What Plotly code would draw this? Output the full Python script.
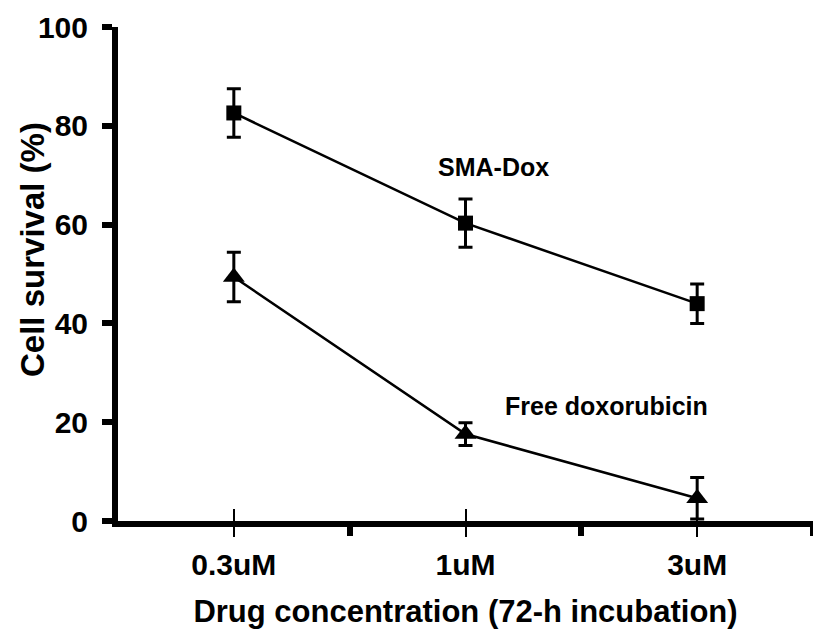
import plotly.graph_objects as go

categories = ["0.3uM", "1uM", "3uM"]
x_pos = [0, 1, 2]
sma_dox = [82.6, 60.3, 44.0]
sma_dox_err = [4.9, 4.9, 4.0]
free_dox = [49.4, 17.6, 4.6]
free_dox_err = [5.0, 2.3, 4.2]
y_ticks = [0, 20, 40, 60, 80, 100]

FONT = "Liberation Sans"

fig = go.Figure()

fig.add_trace(go.Scatter(
    x=x_pos, y=sma_dox, mode="lines+markers",
    line=dict(color="black", width=2.5),
    marker=dict(symbol="square", size=15, color="black"),
    error_y=dict(type="data", array=sma_dox_err, visible=True,
                 color="black", thickness=3, width=7),
    showlegend=False,
))
fig.add_trace(go.Scatter(
    x=x_pos, y=free_dox, mode="lines+markers",
    line=dict(color="black", width=2.5),
    marker=dict(symbol="triangle-up", size=19, color="black"),
    error_y=dict(type="data", array=free_dox_err, visible=True,
                 color="black", thickness=3, width=7),
    showlegend=False,
))
# invisible trace to activate the overlay axis used for crossing ticks
fig.add_trace(go.Scatter(x=x_pos, y=[None]*3, xaxis="x2", yaxis="y",
                         mode="markers", showlegend=False, hoverinfo="skip"))

fig.add_annotation(x=1.12, y=71.7, xref="x", yref="y", text="<b>SMA-Dox</b>",
                   showarrow=False, xanchor="center", yanchor="middle",
                   font=dict(family=FONT, size=25, color="black"))
fig.add_annotation(x=1.61, y=23.2, xref="x", yref="y", text="<b>Free doxorubicin</b>",
                   showarrow=False, xanchor="center", yanchor="middle",
                   font=dict(family=FONT, size=25, color="black"))
fig.add_annotation(x=(32 - 118) / 695, y=(521 - 250) / 494, xref="paper", yref="paper",
                   text="<b>Cell survival (%)</b>", textangle=-90,
                   showarrow=False, xanchor="center", yanchor="middle",
                   font=dict(family=FONT, size=33, color="black"))

fig.update_layout(
    width=813, height=639,
    margin=dict(l=118, r=0, t=27, b=118),
    paper_bgcolor="white", plot_bgcolor="white",
    font=dict(family=FONT, color="black"),
    xaxis=dict(
        range=[-0.5, 2.5], tickvals=x_pos, ticktext=[f"<b>{c}</b>" for c in categories],
        showgrid=False, zeroline=False,
        showline=True, linecolor="black", linewidth=6,
        ticks="outside", ticklen=10, tickwidth=2, tickcolor="black",
        tickfont=dict(family=FONT, size=30, color="black"),
        ticklabelstandoff=2,
        minor=dict(tickvals=[0.5, 1.5, 2.5], ticks="outside", ticklen=9,
                   tickwidth=6, tickcolor="black", showgrid=False),
        title=dict(text="<b>Drug concentration (72-h incubation)</b>",
                   font=dict(family=FONT, size=31, color="black"), standoff=22),
    ),
    xaxis2=dict(
        range=[-0.5, 2.5], overlaying="x", anchor="y", side="bottom",
        tickvals=x_pos, showticklabels=False, showgrid=False, zeroline=False,
        showline=False, ticks="inside", ticklen=12, tickwidth=2, tickcolor="black",
    ),
    yaxis=dict(
        range=[0, 100], tickvals=y_ticks, ticktext=[f"<b>{v}</b>" for v in y_ticks],
        showgrid=False, zeroline=False,
        showline=True, linecolor="black", linewidth=6,
        ticks="outside", ticklen=10, tickwidth=6, tickcolor="black",
        tickfont=dict(family=FONT, size=30, color="black"),
        ticklabelstandoff=8,
    ),
)

fig.write_html("out.html")
